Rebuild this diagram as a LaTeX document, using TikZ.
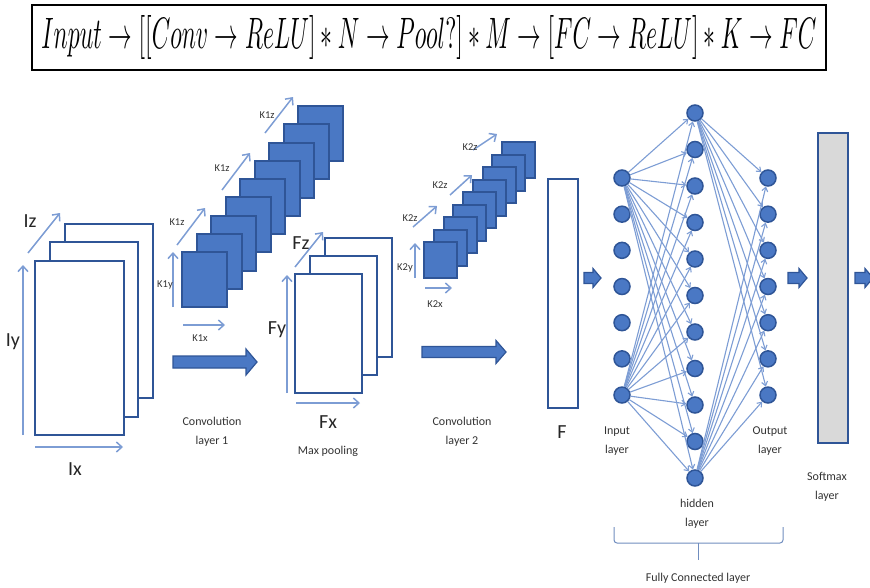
\documentclass[tikz,border=0pt]{standalone}
\usepackage[no-math]{fontspec}
\setmainfont{Carlito}
\usepackage{graphicx}
\usetikzlibrary{arrows.meta}
\definecolor{dkblue}{RGB}{47,85,151}
\definecolor{fillblue}{RGB}{74,120,196}
\definecolor{ltblue}{RGB}{125,157,212}
\definecolor{sgray}{RGB}{217,217,217}
\newcommand{\blockarr}[6]{\draw[barrow] (#1,#3-#4) -- (#2-#6,#3-#4) -- (#2-#6,#3-#5) -- (#2,#3) -- (#2-#6,#3+#5) -- (#2-#6,#3+#4) -- (#1,#3+#4) -- cycle;}
\begin{document}
\begin{tikzpicture}[x=1pt,y=-1pt,
  sheet/.style={draw=dkblue, line width=2.5pt, fill=white},
  kern/.style={draw=dkblue, line width=2pt, fill=fillblue},
  axisarr/.style={draw=ltblue, line width=1.5pt, -{Straight Barb[length=5.5pt,width=10pt]}},
  nnline/.style={draw=ltblue, line width=1.1pt, -{Straight Barb[length=4pt,width=6pt]}},
  neuron/.style={circle, fill=fillblue, draw=dkblue, line width=1.5pt, minimum size=16pt, inner sep=0pt},
  barrow/.style={fill=fillblue, draw=dkblue, line width=1.2pt},
  biglbl/.style={font=\fontsize{20}{20}\selectfont, text=black!85},
  smlbl/.style={font=\fontsize{12}{18.5}\selectfont, align=center, text=black!80},
  klbl/.style={font=\fontsize{10.5}{11}\selectfont, text=black!80}]
\useasboundingbox (0,0) rectangle (870,587);

% formula
\node[draw=black, line width=1.6pt, minimum width=794pt, minimum height=65pt, inner sep=0pt] (formula) at (429,37.5)
  {\resizebox{775pt}{33pt}{$Input \rightarrow [[Conv \rightarrow ReLU] * N \rightarrow Pool?] * M \rightarrow [FC \rightarrow ReLU] * K \rightarrow FC$}};

% input volume
\draw[sheet] (65,224) rectangle (153,398);
\draw[sheet] (50,242) rectangle (138,417);
\draw[sheet] (35,261) rectangle (124,435);
\draw[axisarr] (23,435) -- (23,265);
\draw[axisarr] (28,253) -- (60,213);
\draw[axisarr] (35,447) -- (123,447);
\node[biglbl] (iz) at (30,221) {Iz};
\node[biglbl] (iy) at (13,342) {Iy};
\node[biglbl] (ix) at (75,469) {Ix};

% kernel stack 1
\foreach \i in {8,...,0} \draw[kern] ({182+14.5*\i},{252-18.25*\i}) rectangle ++(45,55);
\draw[axisarr] (173,307) -- (173,252);
\draw[axisarr] (183,325) -- (225,325);
\draw[axisarr] (177,245) -- (205,208);
\draw[axisarr] (222,190) -- (250,153);
\draw[axisarr] (265,133) -- (293,97);
\node[klbl] (k1y) at (165,285) {K1y};
\node[klbl] (k1x) at (200,338) {K1x};
\node[klbl] (k1za) at (177,222) {K1z};
\node[klbl] (k1zb) at (222,168) {K1z};
\node[klbl] (k1zc) at (267,115) {K1z};

% arrow 1
\blockarr{173}{257}{362}{6}{13}{11}
\node[smlbl] (conv1) at (212,432) {Convolution\\layer 1};

% pooled volume
\draw[sheet] (325,238) rectangle (392,357);
\draw[sheet] (310,256) rectangle (377,375);
\draw[sheet] (295,274) rectangle (362,393);
\draw[axisarr] (287,393) -- (287,275);
\draw[axisarr] (295,267) -- (323,232);
\draw[axisarr] (296,403) -- (360,403);
\node[biglbl] (fz) at (301,243) {Fz};
\node[biglbl] (fy) at (277,330) {Fy};
\node[biglbl] (fx) at (328,422) {Fx};
\node[smlbl] (maxp) at (328,451) {Max pooling};

% arrow 2
\blockarr{422}{506}{352}{5.5}{11.5}{10}
\node[smlbl] (conv2) at (462,432) {Convolution\\layer 2};

% kernel stack 2
\foreach \i in {8,...,0} \draw[kern] ({424+9.75*\i},{242-12.5*\i}) rectangle ++(33,36);
\draw[axisarr] (415,278) -- (415,243);
\draw[axisarr] (425,288) -- (452,288);
\draw[axisarr] (413,227) -- (437,206);
\draw[axisarr] (450,195) -- (472,175);
\draw[axisarr] (473,150) -- (497,134);
\node[klbl] (k2y) at (405,268) {K2y};
\node[klbl] (k2x) at (435,304) {K2x};
\node[klbl] (k2za) at (410,218) {K2z};
\node[klbl] (k2zb) at (440,185) {K2z};
\node[klbl] (k2zc) at (470,147) {K2z};

% flatten
\draw[sheet] (548,179) rectangle (578,408);
\node[biglbl] (f) at (562,432) {F};

\blockarr{584}{601}{278}{5.5}{9.5}{8}

% fully connected
\foreach \k [evaluate=\k as \yy using 178+36.17*(\k-1)] in {1,...,7}
  \node[neuron] (i\k) at (622,\yy) {};
\foreach \k [evaluate=\k as \yy using 113+36.5*(\k-1)] in {1,...,11}
  \node[neuron] (h\k) at (695,\yy) {};
\foreach \k [evaluate=\k as \yy using 178+36.17*(\k-1)] in {1,...,7}
  \node[neuron] (o\k) at (768,\yy) {};
\foreach \j in {1,...,11} {
  \draw[nnline] (i1) -- (h\j);
  \draw[nnline] (i7) -- (h\j);
}
\foreach \j in {1,...,7} {
  \draw[nnline] (h1) -- (o\j);
  \draw[nnline] (h11) -- (o\j);
}
\node[smlbl] (inl) at (617,441) {Input\\layer};
\node[smlbl] (hidl) at (697,514) {hidden\\layer};
\node[smlbl] (outl) at (770,441) {Output\\layer};

\blockarr{788}{807}{278}{5.5}{9.5}{8}
\draw[sheet, fill=sgray] (818,133) rectangle (848,443);
\node[smlbl] (softl) at (827,487) {Softmax\\layer};
\blockarr{855}{873}{278}{5.5}{9.5}{8}

% brace
\draw[ltblue!90!black, line width=1pt, rounded corners=3pt] (614,527) -- (614,543) -- (783,543) -- (783,527);
\draw[ltblue!90!black, line width=1pt] (698,543) -- (698,560);
\node[smlbl] (fcl) at (698,578) {Fully Connected layer};
\end{tikzpicture}
\end{document}
